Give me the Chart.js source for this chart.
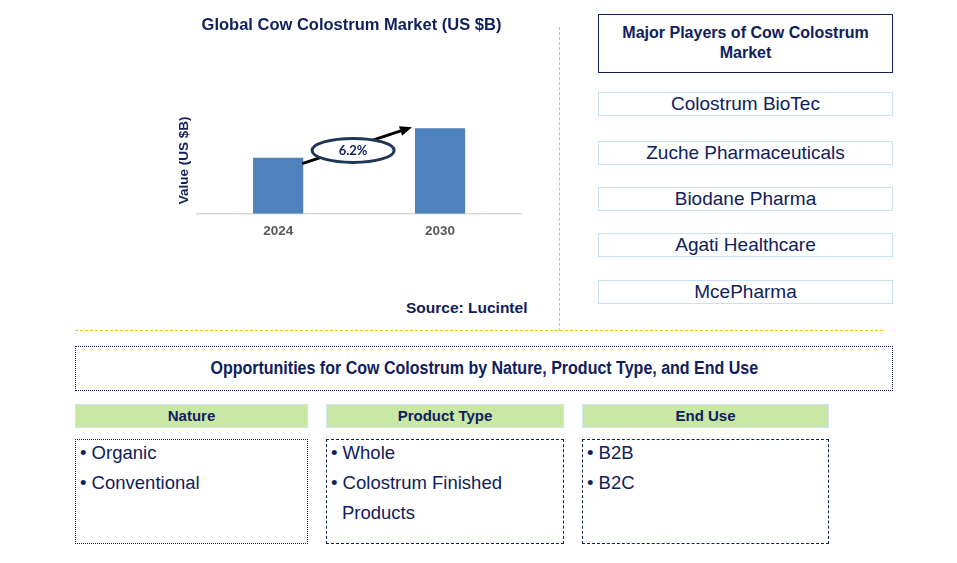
<!DOCTYPE html>
<html>
<head>
<meta charset="utf-8">
<script src="https://cdn.jsdelivr.net/npm/chart.js@4.4.1/dist/chart.umd.min.js"></script>
<style>
  body { margin: 0; background: #fff; font-family: "Liberation Sans", Arial, sans-serif; color: #0f205c; }
  #page { position: relative; width: 957px; height: 563px; overflow: hidden; }
  .abs { position: absolute; box-sizing: border-box; }
  .player { border: 1.5px solid #c9e0f2; text-align: center; font-size: 19px; line-height: 22px; }
  .hdr { background: #c9e7a5; border: 1px solid #cfe3f4; text-align: center; font-weight: bold; font-size: 15px; line-height: 22px; }
  .list { font-size: 18.5px; line-height: 30px; padding: 0 0 0 4px; }
  .list .inner { position: relative; top: -2px; }
  .list .inner div { padding-left: 11px; text-indent: -11px; }
</style>
</head>
<body>
<div id="page">
  <div class="abs" style="left:155px; top:8px; width:400px; height:240px;">
    <canvas id="marketChart"></canvas>
  </div>
  <div class="abs" style="left:406px; top:299px; font-weight:bold; font-size:15.5px;">Source: Lucintel</div>
  <div class="abs" style="left:559px; top:27px; height:304px; border-left:1px dashed #ffc000;"></div>
  <div class="abs" style="left:75px; top:330px; width:808px; border-top:1px dashed #ffc000;"></div>

  <div class="abs" style="left:598px; top:14px; width:295px; height:59px; border:1.5px solid #0f205c; text-align:center; font-weight:bold; font-size:16px; line-height:20px; padding-top:8px;">Major Players of Cow Colostrum<br>Market</div>
  <div id="players"></div>

  <div class="abs" style="left:75px; top:346px; width:818px; height:45px; border:1.5px dotted #0f205c; text-align:center; font-weight:bold; font-size:17.5px; line-height:42px;"><span style="display:inline-block; transform:scaleX(0.915);">Opportunities for Cow Colostrum by Nature, Product Type, and End Use</span></div>
  <div id="segments"></div>
</div>
<script>
const years = ["2024", "2030"];
const marketValues = [2.1, 3.2];
const cagrLabel = "6.2%";

const players = ["Colostrum BioTec", "Zuche Pharmaceuticals", "Biodane Pharma", "Agati Healthcare", "McePharma"];
const playerTops = [92, 141, 187, 233, 280];

const segmentNames = ["Nature", "Product Type", "End Use"];
const natureItems = ["Organic", "Conventional"];
const productTypeItems = ["Whole", "Colostrum Finished Products"];
const endUseItems = ["B2B", "B2C"];
const segmentLefts = [75, 326, 582];
const segmentWidths = [233, 238, 247];

// players column
const playersDiv = document.getElementById("players");
players.forEach((name, i) => {
  const d = document.createElement("div");
  d.className = "abs player";
  d.style.cssText = `left:598px; top:${playerTops[i]}px; width:295px; height:24px;`;
  d.textContent = name;
  playersDiv.appendChild(d);
});

// segment boxes
const segItems = [natureItems, productTypeItems, endUseItems];
const segDiv = document.getElementById("segments");
segmentNames.forEach((name, i) => {
  const h = document.createElement("div");
  h.className = "abs hdr";
  h.style.cssText = `left:${segmentLefts[i]}px; top:404px; width:${segmentWidths[i]}px; height:24px;`;
  h.textContent = name;
  segDiv.appendChild(h);

  const b = document.createElement("div");
  b.className = "abs list";
  const style = i === 0 ? "dotted" : "dashed";
  b.style.cssText = `left:${segmentLefts[i]}px; top:439px; width:${segmentWidths[i]}px; height:105px; border:1.2px ${style} #0f205c;`;
  const inner = document.createElement("div");
  inner.className = "inner";
  segItems[i].forEach(t => {
    const it = document.createElement("div");
    it.textContent = "\u2022 " + t;
    inner.appendChild(it);
  });
  b.appendChild(inner);
  segDiv.appendChild(b);
});

// arrow + cagr ellipse drawn over the bars
const cagrPlugin = {
  id: "cagr",
  afterDatasetsDraw(chart) {
    const bars = chart.getDatasetMeta(0).data;
    if (bars.length < 2) return;
    const ctx = chart.ctx;
    const b0 = bars[0], b1 = bars[1];
    const x1 = b0.x + b0.width / 2 - 1, y1 = b0.y + 6;
    const x2 = b1.x - b1.width / 2 - 3, y2 = b1.y - 1;
    ctx.save();
    ctx.strokeStyle = "#000";
    ctx.fillStyle = "#000";
    ctx.lineWidth = 3;
    ctx.beginPath();
    ctx.moveTo(x1, y1);
    ctx.lineTo(x2 - 6, y2 + 2);
    ctx.stroke();
    const ang = Math.atan2(y2 - y1, x2 - x1);
    ctx.beginPath();
    ctx.moveTo(x2, y2);
    ctx.lineTo(x2 - 12 * Math.cos(ang) + 5 * Math.sin(ang), y2 - 12 * Math.sin(ang) - 5 * Math.cos(ang));
    ctx.lineTo(x2 - 12 * Math.cos(ang) - 5 * Math.sin(ang), y2 - 12 * Math.sin(ang) + 5 * Math.cos(ang));
    ctx.closePath();
    ctx.fill();

    const cx = (x1 + x2) / 2 - 4, cy = (y1 + y2) / 2 + 5;
    ctx.beginPath();
    ctx.ellipse(cx, cy, 41, 12, 0, 0, Math.PI * 2);
    ctx.fillStyle = "#fff";
    ctx.fill();
    ctx.lineWidth = 3;
    ctx.strokeStyle = "#1f3656";
    ctx.stroke();
    ctx.fillStyle = "#0f205c";
    ctx.font = "bold 13px Lato, 'Open Sans', sans-serif";
    ctx.textAlign = "center";
    ctx.textBaseline = "middle";
    ctx.fillText(cagrLabel, cx, cy);
    ctx.restore();
  }
};

new Chart(document.getElementById("marketChart"), {
  type: "bar",
  data: {
    labels: years,
    datasets: [{
      data: marketValues,
      backgroundColor: "#4f81bd",
      barPercentage: 0.62,
      categoryPercentage: 0.5
    }]
  },
  options: {
    responsive: true,
    maintainAspectRatio: false,
    animation: false,
    layout: { padding: { left: 27, right: 34, top: 0, bottom: 0 } },
    plugins: {
      legend: { display: false },
      tooltip: { enabled: false },
      title: {
        display: true,
        text: "Global Cow Colostrum Market (US $B)",
        color: "#0f205c",
        font: { family: "'Liberation Sans', Arial, sans-serif", size: 16.5, weight: "bold" },
        padding: { top: 8, bottom: 71 }
      }
    },
    scales: {
      x: {
        grid: { display: false, drawTicks: false },
        border: { display: true, color: "#d9d9d9", width: 1.5 },
        ticks: { color: "#595959", padding: 9, font: { family: "'Liberation Sans', Arial, sans-serif", size: 13.5, weight: "bold" } }
      },
      y: {
        min: 0,
        max: 4,
        grid: { display: false, drawTicks: false },
        border: { display: false },
        ticks: { display: false },
        title: {
          display: true,
          text: "Value (US $B)",
          color: "#0f205c",
          padding: { top: -6, bottom: 5 },
          font: { family: "'Liberation Sans', Arial, sans-serif", size: 13.5, weight: "bold" }
        }
      }
    }
  },
  plugins: [cagrPlugin]
});
</script>
</body>
</html>
